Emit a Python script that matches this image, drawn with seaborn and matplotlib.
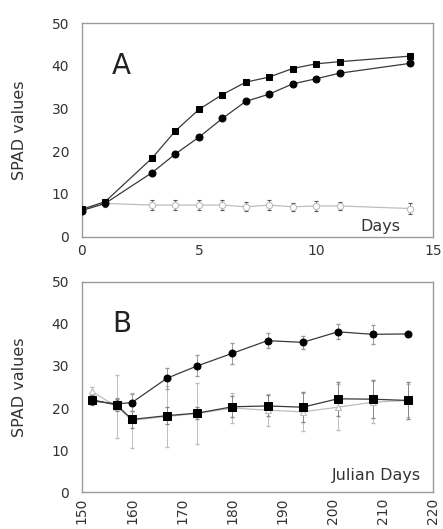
import matplotlib
matplotlib.use("Agg")
import matplotlib.pyplot as plt
from matplotlib.ticker import MultipleLocator
import pandas as pd
import seaborn as sns

# panel A: days after treatment
DAYS_A = [0, 1, 3, 4, 5, 6, 7, 8, 9, 10, 11, 14]
SQUARE_A = [6.4, 8.2, 18.4, 24.8, 29.8, 33.3, 36.2, 37.4, 39.4, 40.5, 41.0, 42.3]
CIRCLE_A = [6.1, 7.8, 15.0, 19.4, 23.3, 27.7, 31.7, 33.4, 35.8, 37.0, 38.3, 40.6]
OPEN_A = [6.2, 7.8, 7.4, 7.4, 7.4, 7.4, 7.0, 7.4, 7.0, 7.2, 7.2, 6.6]
OPEN_A_ERR = [0.6, 0.8, 1.2, 1.1, 1.1, 1.1, 1.1, 1.2, 1.0, 1.2, 1.0, 1.3]

# panel B: julian days
DAYS_B = [152, 157, 160, 167, 173, 180, 187, 194, 201, 208, 215]
CIRCLE_B = [21.7, 21.0, 21.3, 27.1, 30.0, 33.0, 36.0, 35.6, 38.1, 37.5, 37.6]
CIRCLE_B_ERR = [1.0, 1.5, 2.0, 2.5, 2.5, 2.5, 1.8, 1.5, 1.8, 2.2, 0.5]
SQUARE_B = [22.0, 20.7, 17.3, 18.2, 18.8, 20.3, 20.5, 20.2, 22.2, 22.1, 21.8]
SQUARE_B_ERR = [1.0, 1.5, 2.0, 2.0, 1.5, 2.5, 2.5, 3.5, 4.0, 4.5, 4.4]
OPEN_B = [24.0, 20.3, 17.1, 18.0, 18.7, 20.0, 19.5, 19.1, 20.2, 21.4, 21.8]
OPEN_B_ERR = [1.0, 7.5, 6.5, 7.2, 7.2, 3.5, 3.8, 4.5, 5.5, 5.0, 4.0]

DARK = "#3a3a3a"
LIGHT = "#bdbdbd"
SPINE = "#9a9a9a"
TEXT = "#333333"


def style_axes(ax):
    for s in ax.spines.values():
        s.set_color(SPINE)
        s.set_linewidth(1.0)
    ax.tick_params(which="both", direction="in", color="#777777",
                   labelsize=10, labelcolor=TEXT)
    ax.tick_params(which="major", length=3)
    ax.tick_params(which="minor", length=1.5)
    ax.tick_params(axis="y", which="both", pad=9)
    ax.set_ylim(0, 50)
    ax.yaxis.set_major_locator(MultipleLocator(10))
    ax.yaxis.set_minor_locator(MultipleLocator(2))
    ax.set_ylabel("SPAD values", fontsize=11.5, color=TEXT, labelpad=18)
    ax.set_xlabel("")


def draw_series(ax, x, y, marker, open_style=False, size=5):
    df = pd.DataFrame({"x": x, "y": y})
    if open_style:
        sns.lineplot(data=df, x="x", y="y", ax=ax, color=LIGHT, lw=0.9,
                     marker=marker, markersize=size, markerfacecolor="white",
                     markeredgecolor=LIGHT, markeredgewidth=0.8, zorder=2)
    else:
        sns.lineplot(data=df, x="x", y="y", ax=ax, color=DARK, lw=0.9,
                     marker=marker, markersize=size, markerfacecolor="black",
                     markeredgecolor="black", zorder=4)


sns.set_theme(style="white")
plt.rcParams["font.family"] = ["DejaVu Sans"]

fig = plt.figure(figsize=(4.43, 5.29), dpi=100)
ax_a = fig.add_axes([0.1845, 0.5526, 0.7935, 0.4034])
ax_b = fig.add_axes([0.1845, 0.0694, 0.7935, 0.3981])

# panel A
ax_a.errorbar(DAYS_A, OPEN_A, yerr=OPEN_A_ERR, fmt="none", ecolor="#555555",
              elinewidth=0.6, capsize=1.5, capthick=0.8, zorder=1)
draw_series(ax_a, DAYS_A, OPEN_A, "o", open_style=True, size=4.5)
draw_series(ax_a, DAYS_A, CIRCLE_A, "o", size=5)
draw_series(ax_a, DAYS_A, SQUARE_A, "s", size=5)
style_axes(ax_a)
ax_a.set_xlim(0, 15)
ax_a.xaxis.set_major_locator(MultipleLocator(5))
ax_a.xaxis.set_minor_locator(MultipleLocator(0.5))
ax_a.tick_params(axis="x", pad=5)
ax_a.text(1.3, 40, "A", fontsize=20, color="#222222", va="center", ha="left")
ax_a.text(13.6, 2.3, "Days", fontsize=11.5, color=TEXT, ha="right", va="center")

# panel B
ax_b.errorbar(DAYS_B, OPEN_B, yerr=OPEN_B_ERR, fmt="none", ecolor=LIGHT,
              elinewidth=0.7, capsize=1.5, zorder=1)
ax_b.errorbar(DAYS_B, SQUARE_B, yerr=SQUARE_B_ERR, fmt="none", ecolor="#888888",
              elinewidth=0.7, capsize=1.5, zorder=1)
ax_b.errorbar(DAYS_B, CIRCLE_B, yerr=CIRCLE_B_ERR, fmt="none", ecolor="#999999",
              elinewidth=0.7, capsize=1.5, zorder=1)
draw_series(ax_b, DAYS_B, OPEN_B, "^", open_style=True, size=4)
draw_series(ax_b, DAYS_B, CIRCLE_B, "o", size=5)
draw_series(ax_b, DAYS_B, SQUARE_B, "s", size=5.5)
style_axes(ax_b)
ax_b.set_xlim(150, 220)
ax_b.xaxis.set_major_locator(MultipleLocator(10))
ax_b.xaxis.set_minor_locator(MultipleLocator(2))
ax_b.tick_params(axis="x", labelrotation=90, pad=4)
ax_b.text(156, 40, "B", fontsize=20, color="#222222", va="center", ha="left")
ax_b.text(217.5, 4.1, "Julian Days", fontsize=11.5, color=TEXT,
          ha="right", va="center")

fig.savefig("out.png", dpi=100)
